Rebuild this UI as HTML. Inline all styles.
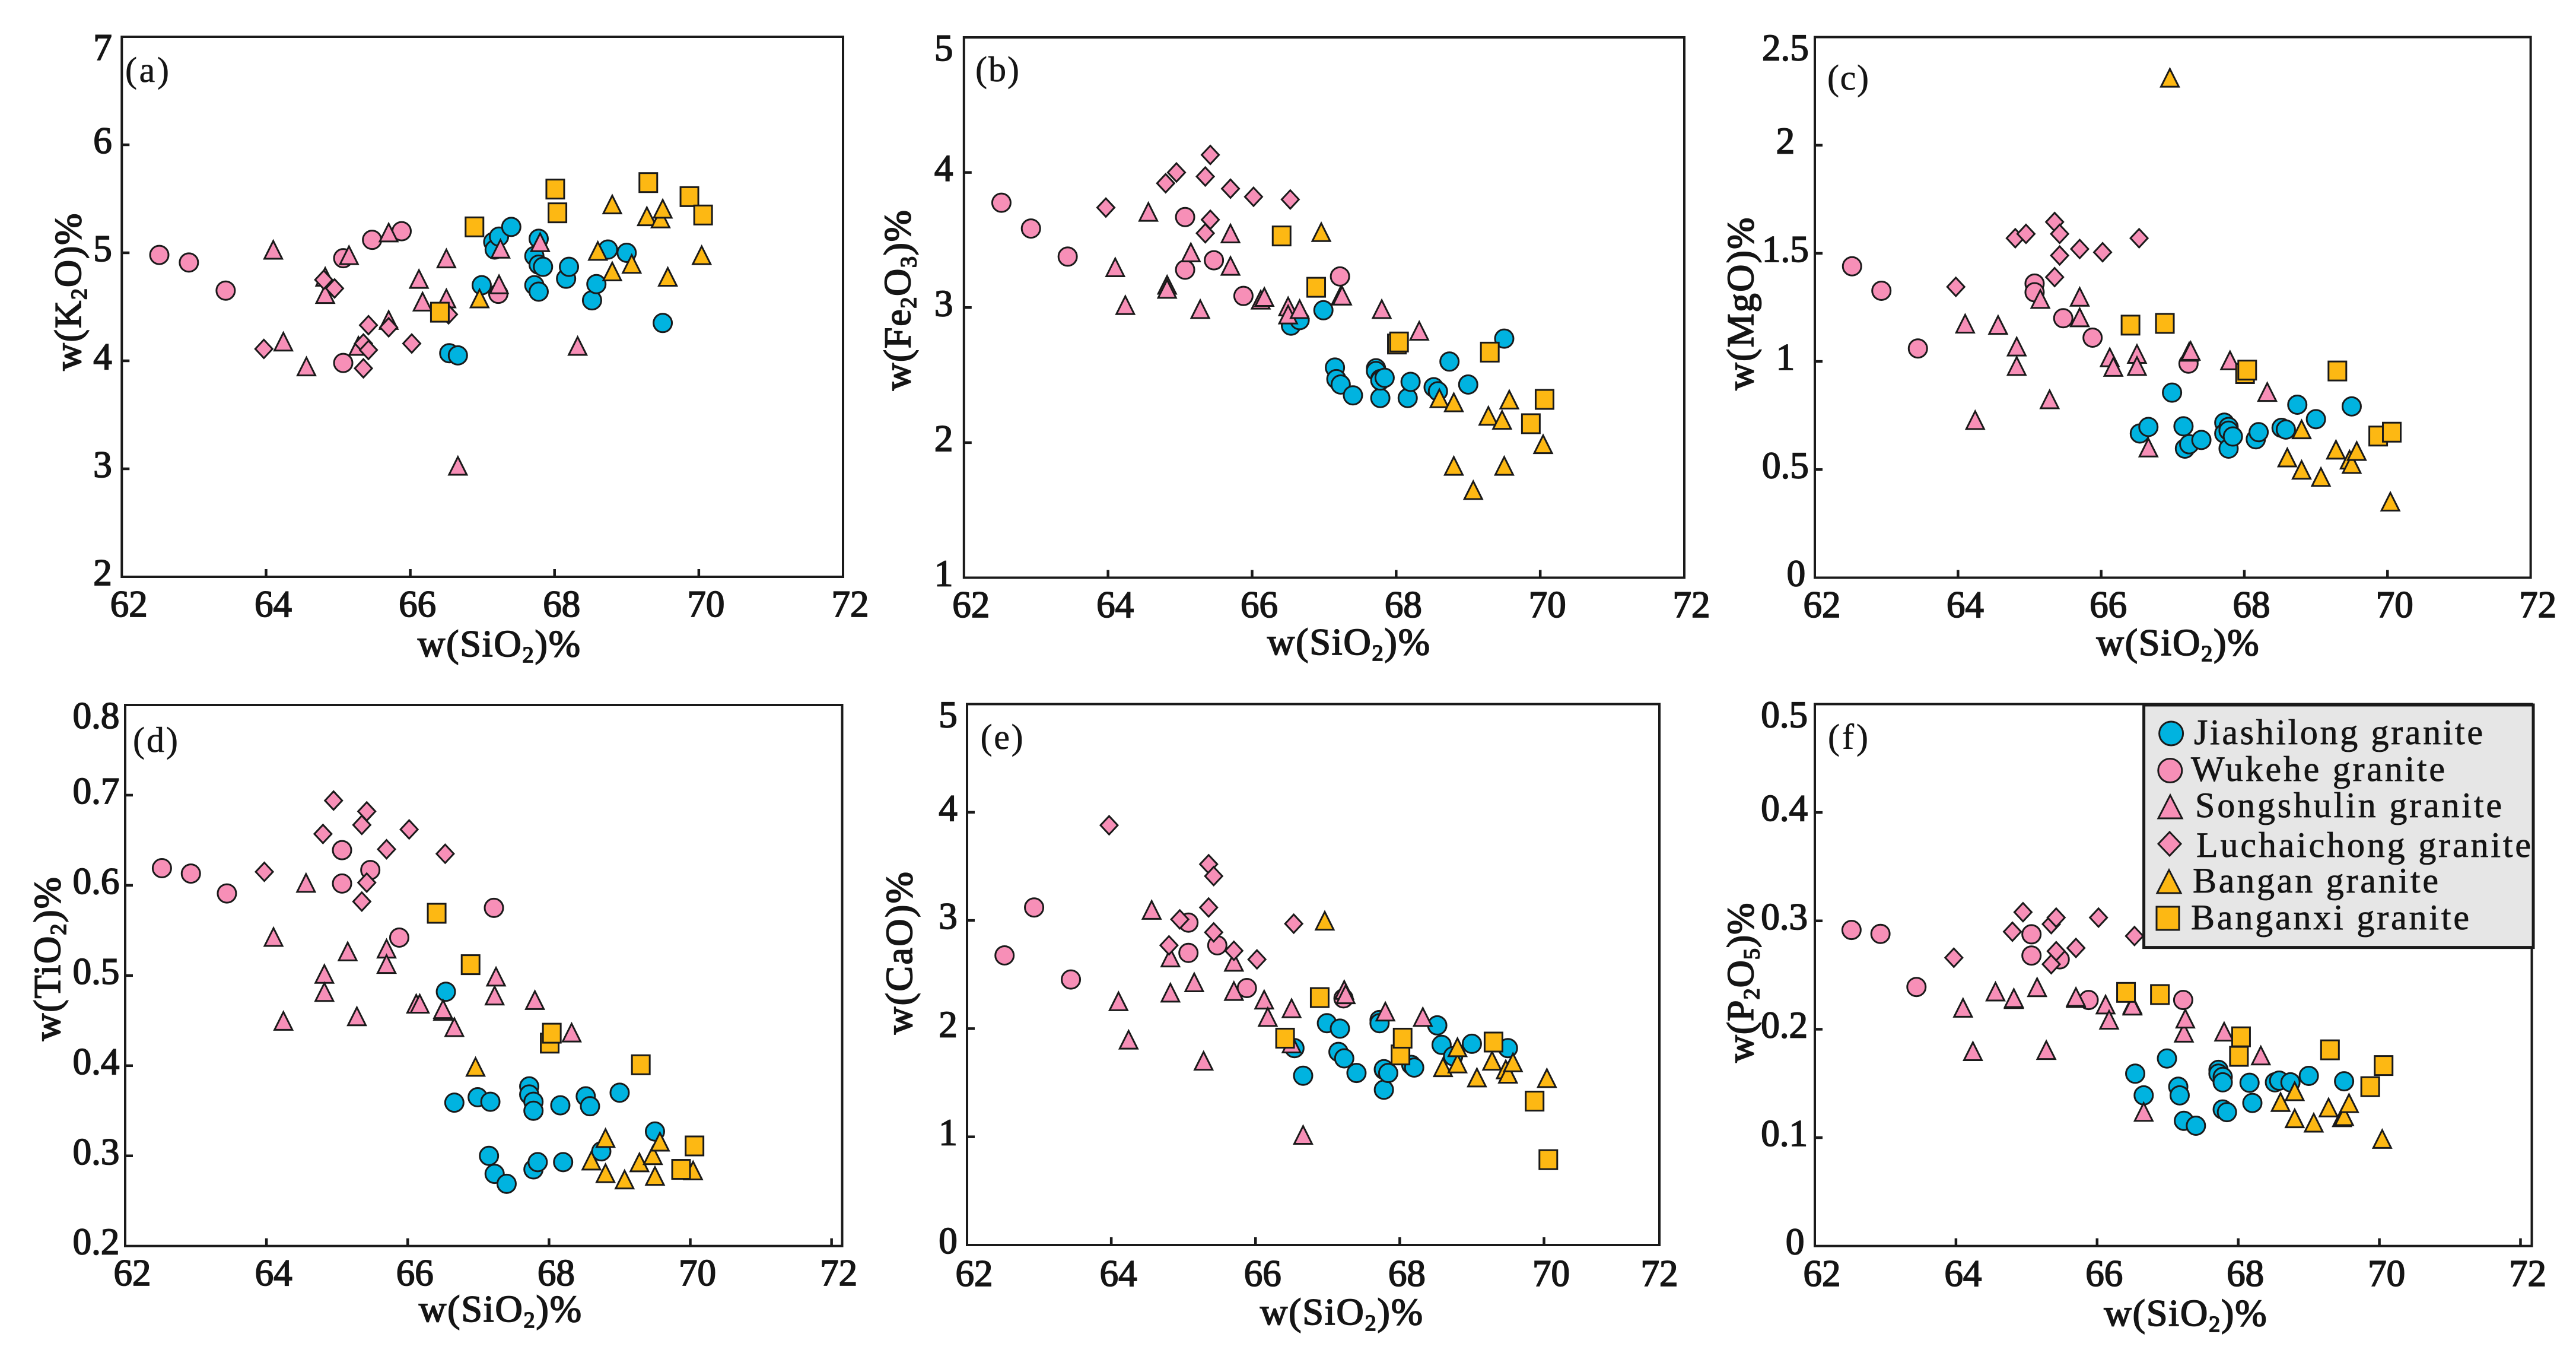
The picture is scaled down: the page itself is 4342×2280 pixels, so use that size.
<!DOCTYPE html>
<html><head><meta charset="utf-8"><title>Granite Harker diagrams</title>
<style>
html,body{margin:0;padding:0;background:#fff}
svg{display:block}
text{font-family:"Liberation Serif",serif;fill:#151515;stroke:#151515;stroke-width:1.8}
.frame{fill:#fff;stroke:#1a1a1a;stroke-width:4}
.tick{stroke:#1a1a1a;stroke-width:4.5}
</style></head>
<body>
<svg id="chart" xmlns="http://www.w3.org/2000/svg" width="4342" height="2280" viewBox="0 0 4342 2280">
<rect x="0" y="0" width="4342" height="2280" fill="#fff"/>
<g id="panel-a">
<rect class="frame" x="205.3" y="62" width="1215.7" height="910"/>
<text x="248" y="138" font-size="60" text-anchor="middle" textLength="74" style="stroke-width:.6">(a)</text>
<text x="841" y="1106" font-size="64" text-anchor="middle" textLength="274">w(SiO<tspan font-size="38" dy="10">2</tspan><tspan dy="-10">)%</tspan></text>
<text transform="translate(136,492) rotate(-90)" font-size="64" text-anchor="middle" textLength="265">w(K<tspan font-size="38" dy="10">2</tspan><tspan dy="-10">O)%</tspan></text>
</g>
<g id="panel-b">
<rect class="frame" x="1624.8" y="63" width="1214.2" height="910.5"/>
<text x="1681" y="137" font-size="60" text-anchor="middle" textLength="74" style="stroke-width:.6">(b)</text>
<text x="2273" y="1103" font-size="64" text-anchor="middle" textLength="274">w(SiO<tspan font-size="38" dy="10">2</tspan><tspan dy="-10">)%</tspan></text>
<text transform="translate(1534,506) rotate(-90)" font-size="64" text-anchor="middle" textLength="304">w(Fe<tspan font-size="38" dy="10">2</tspan><tspan dy="-10">O</tspan><tspan font-size="38" dy="10">3</tspan><tspan dy="-10">)%</tspan></text>
</g>
<g id="panel-c">
<rect class="frame" x="3059" y="62.5" width="1206.6" height="911"/>
<text x="3115" y="151" font-size="60" text-anchor="middle" textLength="70" style="stroke-width:.6">(c)</text>
<text x="3670.6" y="1104" font-size="64" text-anchor="middle" textLength="274">w(SiO<tspan font-size="38" dy="10">2</tspan><tspan dy="-10">)%</tspan></text>
<text transform="translate(2955,512) rotate(-90)" font-size="64" text-anchor="middle" textLength="291">w(MgO)%</text>
</g>
<g id="panel-d">
<rect class="frame" x="211" y="1188" width="1208.5" height="911.7"/>
<text x="262" y="1267" font-size="60" text-anchor="middle" textLength="76" style="stroke-width:.6">(d)</text>
<text x="843" y="2227" font-size="64" text-anchor="middle" textLength="274">w(SiO<tspan font-size="38" dy="10">2</tspan><tspan dy="-10">)%</tspan></text>
<text transform="translate(101,1616) rotate(-90)" font-size="64" text-anchor="middle" textLength="276">w(TiO<tspan font-size="38" dy="10">2</tspan><tspan dy="-10">)%</tspan></text>
</g>
<g id="panel-e">
<rect class="frame" x="1630" y="1186.5" width="1167" height="911.5"/>
<text x="1688.6" y="1262" font-size="60" text-anchor="middle" textLength="72" style="stroke-width:.6">(e)</text>
<text x="2261" y="2232" font-size="64" text-anchor="middle" textLength="274">w(SiO<tspan font-size="38" dy="10">2</tspan><tspan dy="-10">)%</tspan></text>
<text transform="translate(1537,1606) rotate(-90)" font-size="64" text-anchor="middle" textLength="274">w(CaO)%</text>
</g>
<g id="panel-f">
<rect class="frame" x="3059" y="1186.5" width="1208.5" height="913.2"/>
<text x="3115" y="1262" font-size="60" text-anchor="middle" textLength="68" style="stroke-width:.6">(f)</text>
<text x="3683.5" y="2234" font-size="64" text-anchor="middle" textLength="274">w(SiO<tspan font-size="38" dy="10">2</tspan><tspan dy="-10">)%</tspan></text>
<text transform="translate(2955,1656) rotate(-90)" font-size="64" text-anchor="middle" textLength="269">w(P<tspan font-size="38" dy="10">2</tspan><tspan dy="-10">O</tspan><tspan font-size="38" dy="10">5</tspan><tspan dy="-10">)%</tspan></text>
</g>
<g id="legend">
<rect x="3613.6" y="1188" width="656.4" height="408.6" fill="#e6e6e6" stroke="#1a1a1a" stroke-width="5"/>
<g>
<circle cx="3659.6" cy="1236" r="20" fill="#00b3e0" stroke="#1a1a1a" stroke-width="3"/>
<text x="3698" y="1254" font-size="60" textLength="487" style="stroke-width:.8">Jiashilong granite</text></g>
<g>
<circle cx="3657.8" cy="1298.5" r="20" fill="#f78fb7" stroke="#1a1a1a" stroke-width="3"/>
<text x="3693" y="1316" font-size="60" textLength="428" style="stroke-width:.8">Wukehe granite</text></g>
<g>
<polygon points="3638,1379 3678,1379 3658,1340" fill="#f78fb7" stroke="#1a1a1a" stroke-width="3"/>
<text x="3700" y="1377" font-size="60" textLength="517" style="stroke-width:.8">Songshulin granite</text></g>
<g>
<polygon points="3657,1402 3676,1422 3657,1442 3638,1422" fill="#f78fb7" stroke="#1a1a1a" stroke-width="3"/>
<text x="3702" y="1444" font-size="60" textLength="564" style="stroke-width:.8">Luchaichong granite</text></g>
<g>
<polygon points="3636,1505 3676,1505 3656,1466" fill="#fdb813" stroke="#1a1a1a" stroke-width="3"/>
<text x="3696" y="1504" font-size="60" textLength="414" style="stroke-width:.8">Bangan granite</text></g>
<g>
<rect x="3635" y="1528" width="38" height="39" fill="#fdb813" stroke="#1a1a1a" stroke-width="3"/>
<text x="3693" y="1566" font-size="60" textLength="469" style="stroke-width:.8">Banganxi granite</text></g>
</g>
</svg>
<script>
const xTickLabels = ["62","64","66","68","70","72"];
const yTickLabelsA = ["2","3","4","5","6","7"];
const yTickLabelsB = ["1","2","3","4","5"];
const yTickLabelsC = ["0","0.5","1","1.5","2","2.5"];
const yTickLabelsD = ["0.2","0.3","0.4","0.5","0.6","0.7","0.8"];
const yTickLabelsE = ["0","1","2","3","4","5"];
const yTickLabelsF = ["0","0.1","0.2","0.3","0.4","0.5"];

const jiashilongSiO2 = [66.54,66.66,66.99,67.15,67.17,67.23,67.4,67.72,67.72,67.78,67.78,67.78,67.84,68.16,68.2,68.52,68.58,68.74,69.0,69.5];
const jiashilongK2O = [4.07,4.05,4.7,5.1,5.03,5.15,5.24,4.97,4.7,4.89,4.64,5.13,4.87,4.76,4.87,4.56,4.71,5.03,5.0,4.35];
const jiashilongFe2O3 = [2.866,2.907,2.98,2.556,2.47,2.43,2.35,2.55,2.53,2.47,2.33,2.46,2.48,2.33,2.45,2.41,2.38,2.6,2.43,2.77];
const jiashilongMgO = [0.667,0.697,0.856,0.70,0.597,0.617,0.637,0.717,0.667,0.697,0.597,0.68,0.653,0.64,0.673,0.693,0.685,0.80,0.733,0.792];
const jiashilongTiO2 = [0.482,0.359,0.365,0.30,0.36,0.28,0.269,0.377,0.368,0.36,0.35,0.285,0.293,0.356,0.293,0.366,0.355,0.305,0.37,0.327];
const jiashilongCaO = [1.82,1.565,2.05,1.785,2.0,1.725,1.59,2.08,2.05,1.62,1.435,1.625,1.59,1.665,1.64,2.03,1.85,1.745,1.86,1.82];
const jiashilongP2O5 = [0.159,0.139,0.173,0.147,0.139,0.1155,0.111,0.1625,0.159,0.156,0.151,0.126,0.1235,0.1506,0.132,0.151,0.1526,0.151,0.157,0.152];

const wukeheSiO2 = [62.52,62.93,63.44,65.07,65.07,65.47,65.88,67.22];
const wukeheK2O = [4.98,4.91,4.65,4.95,3.98,5.12,5.2,4.62];
const wukeheFe2O3 = [3.776,3.585,3.377,3.67,3.28,3.35,3.086,3.23];
const wukeheMgO = [1.44,1.327,1.06,1.36,1.32,1.2,1.11,0.99];
const wukeheTiO2 = [0.619,0.613,0.591,0.639,0.602,0.617,0.542,0.575];
const wukeheCaO = [2.677,3.12,2.454,2.98,2.70,2.77,2.375,2.28];
const wukeheP2O5 = [0.2916,0.288,0.239,0.2876,0.268,0.2645,0.227,0.227];

const songshulinSiO2 = [64.1,64.24,64.56,64.82,64.82,65.15,65.28,65.7,65.7,66.12,66.17,66.5,66.5,66.66,67.23,67.25,67.8,68.32];
const songshulinK2O = [5.03,4.18,3.95,4.78,4.62,4.98,4.14,5.19,4.38,4.76,4.55,4.95,4.58,3.03,4.71,5.04,5.1,4.14];
const songshulinFe2O3 = [3.30,3.02,3.71,3.17,3.14,3.41,2.99,3.55,3.31,3.06,3.08,3.01,2.95,2.99,3.09,3.09,2.99,2.83];
const songshulinMgO = [1.176,0.73,1.17,1.07,0.98,1.29,0.826,1.30,1.205,1.02,0.976,1.036,0.98,0.603,1.046,1.05,1.006,0.86];
const songshulinTiO2 = [0.543,0.45,0.603,0.502,0.482,0.527,0.455,0.53,0.513,0.469,0.469,0.461,0.463,0.443,0.478,0.499,0.473,0.437];
const songshulinCaO = [2.255,1.90,3.10,2.66,2.335,2.43,1.705,2.62,2.35,2.27,2.11,2.19,1.865,1.02,2.36,2.32,2.16,2.11];
const songshulinP2O5 = [0.22,0.18,0.235,0.228,0.229,0.239,0.181,0.229,0.23,0.223,0.209,0.223,0.222,0.124,0.197,0.21,0.198,0.176];

const luchaichongSiO2 = [63.97,64.8,64.95,65.35,65.35,65.42,65.42,65.7,66.02,66.53];
const luchaichongK2O = [4.11,4.75,4.67,4.16,3.93,4.1,4.33,4.31,4.16,4.43];
const luchaichongFe2O3 = [3.74,3.92,4.0,3.97,3.55,4.13,3.65,3.88,3.82,3.8];
const luchaichongMgO = [1.345,1.57,1.59,1.645,1.39,1.59,1.49,1.52,1.505,1.57];
const luchaichongTiO2 = [0.615,0.657,0.694,0.667,0.582,0.682,0.603,0.64,0.662,0.635];
const luchaichongCaO = [3.88,2.77,3.01,3.52,3.12,3.41,2.89,2.72,2.64,2.97];
const luchaichongP2O5 = [0.266,0.29,0.308,0.297,0.26,0.303,0.272,0.275,0.303,0.286];

const banganSiO2 = [66.96,68.6,68.8,68.8,69.07,69.28,69.47,69.5,69.57,70.04];
const banganK2O = [4.58,5.02,4.83,5.45,4.9,5.34,5.32,5.41,4.78,4.98];
const banganFe2O3 = [3.56,2.33,2.30,1.83,1.65,2.2,2.17,1.83,2.32,1.99];
const banganMgO = [2.313,0.557,0.687,0.50,0.467,0.593,0.547,0.527,0.587,0.353];
const banganTiO2 = [0.399,0.295,0.281,0.32,0.274,0.293,0.301,0.278,0.316,0.284];
const banganCaO = [3.0,1.645,1.68,1.83,1.55,1.705,1.625,1.585,1.69,1.545];
const banganP2O5 = [0.32,0.133,0.118,0.143,0.114,0.128,0.119,0.12,0.132,0.099];

const banganxiSiO2 = [66.41,66.89,68.01,68.04,69.3,69.87,70.06];
const banganxiK2O = [4.45,5.24,5.59,5.37,5.65,5.52,5.35];
const banganxiFe2O3 = [3.53,3.15,2.73,2.745,2.67,2.14,2.32];
const banganxiMgO = [1.168,1.176,0.944,0.96,0.956,0.655,0.673];
const banganxiTiO2 = [0.569,0.512,0.425,0.436,0.401,0.285,0.311];
const banganxiCaO = [1.912,2.287,1.757,1.912,1.876,1.33,0.789];
const banganxiP2O5 = [0.234,0.232,0.175,0.193,0.181,0.147,0.1665];

const NS = 'http://www.w3.org/2000/svg';
const BLUE = '#00b3e0', PINK = '#f78fb7', GOLD = '#fdb813', EDGE = '#1a1a1a';

const panels = [
  {id:'a', L:205.3, R:1421, T:62, B:972, xMax:72, ticks:yTickLabelsA, labX:173, zeroShift:0, labY:1039,
   data:[jiashilongK2O,wukeheK2O,songshulinK2O,luchaichongK2O,banganK2O,banganxiK2O]},
  {id:'b', L:1624.8, R:2839, T:63, B:973.5, xMax:72, ticks:yTickLabelsB, labX:1590.6, zeroShift:0, labY:1040,
   data:[jiashilongFe2O3,wukeheFe2O3,songshulinFe2O3,luchaichongFe2O3,banganFe2O3,banganxiFe2O3]},
  {id:'c', L:3059, R:4265.6, T:62.5, B:973.5, xMax:72, ticks:yTickLabelsC, labX:3009.4, zeroShift:18, labY:1040,
   data:[jiashilongMgO,wukeheMgO,songshulinMgO,luchaichongMgO,banganMgO,banganxiMgO]},
  {id:'d', L:211, R:1419.5, T:1188, B:2099.7, xMax:72.15, ticks:yTickLabelsD, labX:162, zeroShift:0, labY:2166,
   data:[jiashilongTiO2,wukeheTiO2,songshulinTiO2,luchaichongTiO2,banganTiO2,banganxiTiO2]},
  {id:'e', L:1630, R:2797, T:1186.5, B:2098, xMax:71.6, ticks:yTickLabelsE, labX:1598, zeroShift:0, labY:2167,
   data:[jiashilongCaO,wukeheCaO,songshulinCaO,luchaichongCaO,banganCaO,banganxiCaO]},
  {id:'f', L:3059, R:4267.5, T:1186.5, B:2099.7, xMax:72.16, ticks:yTickLabelsF, labX:3007.6, zeroShift:18, labY:2167,
   data:[jiashilongP2O5,wukeheP2O5,songshulinP2O5,luchaichongP2O5,banganP2O5,banganxiP2O5]}
];

const seriesX = [jiashilongSiO2,wukeheSiO2,songshulinSiO2,luchaichongSiO2,banganSiO2,banganxiSiO2];
const seriesNames = ['jiashilong','wukehe','songshulin','luchaichong','bangan','banganxi'];
const seriesShape = ['circle','circle','triangle','diamond','triangle','square'];
const seriesFill = [BLUE,PINK,PINK,PINK,GOLD,GOLD];
const drawOrder = [1,0,2,3,4,5];

function xScale(p, v){ return p.L + (v - 62) / (p.xMax - 62) * (p.R - p.L); }
function yScale(p, v){
  const lo = +p.ticks[0], hi = +p.ticks[p.ticks.length - 1];
  return p.B - (v - lo) / (hi - lo) * (p.B - p.T);
}
function drawMarker(parent, shape, cx, cy, fill){
  let el;
  if(shape === 'circle'){
    el = document.createElementNS(NS, 'circle');
    el.setAttribute('cx', cx); el.setAttribute('cy', cy); el.setAttribute('r', 15.5);
  } else if(shape === 'square'){
    el = document.createElementNS(NS, 'rect');
    el.setAttribute('x', cx - 15); el.setAttribute('y', cy - 16);
    el.setAttribute('width', 30); el.setAttribute('height', 32);
  } else if(shape === 'diamond'){
    el = document.createElementNS(NS, 'polygon');
    el.setAttribute('points', [cx, cy - 15.5, cx + 14.5, cy, cx, cy + 15.5, cx - 14.5, cy].join(' '));
  } else {
    el = document.createElementNS(NS, 'polygon');
    el.setAttribute('points', [cx - 15, cy + 15.5, cx + 15, cy + 15.5, cx, cy - 14.5].join(' '));
  }
  el.setAttribute('fill', fill);
  el.setAttribute('stroke', EDGE);
  el.setAttribute('stroke-width', 3);
  parent.appendChild(el);
  return el;
}
function makeLine(parent, x1, y1, x2, y2){
  const l = document.createElementNS(NS, 'line');
  l.setAttribute('x1', x1); l.setAttribute('y1', y1);
  l.setAttribute('x2', x2); l.setAttribute('y2', y2);
  l.setAttribute('class', 'tick');
  parent.appendChild(l);
  return l;
}
function makeLabel(parent, x, y, str){
  const t = document.createElementNS(NS, 'text');
  t.setAttribute('x', x); t.setAttribute('y', y);
  t.setAttribute('font-size', 63);
  t.setAttribute('text-anchor', 'middle');
  t.textContent = str;
  parent.appendChild(t);
  return t;
}

panels.forEach(function(p){
  const root = document.getElementById('panel-' + p.id);
  xTickLabels.forEach(function(lab){
    const v = +lab;
    const inside = v <= p.xMax;
    const px = inside ? xScale(p, v) : p.R;
    if(inside && v > 62 && px < p.R - 8){
      const tk = makeLine(root, px, p.B, px, p.B - 13);
      
      
    }
    const tl = makeLabel(root, inside ? px + 12 : p.R, p.labY, lab);
    
    
  });
  p.ticks.forEach(function(lab, i){
    const py = yScale(p, +lab);
    if(i > 0 && i < p.ticks.length - 1){
      const tk = makeLine(root, p.L, py, p.L + 13, py);
      
      
    }
    const dy = (i === p.ticks.length - 1) ? 20 : -5;
    const shift = lab === '0' ? p.zeroShift : 0;
    const tl = makeLabel(root, p.labX + shift, py + dy + 19, lab);
    
    
  });
  drawOrder.forEach(function(s){
    const g = document.createElementNS(NS, 'g');
    
    
    root.appendChild(g);
    seriesX[s].forEach(function(xv, i){
      const m = drawMarker(g, seriesShape[s], xScale(p, xv), yScale(p, p.data[s][i]), seriesFill[s]);
      
      
    });
  });
});
const svgRoot = document.getElementById('chart');
svgRoot.appendChild(document.getElementById('legend'));
</script>
</body></html>
